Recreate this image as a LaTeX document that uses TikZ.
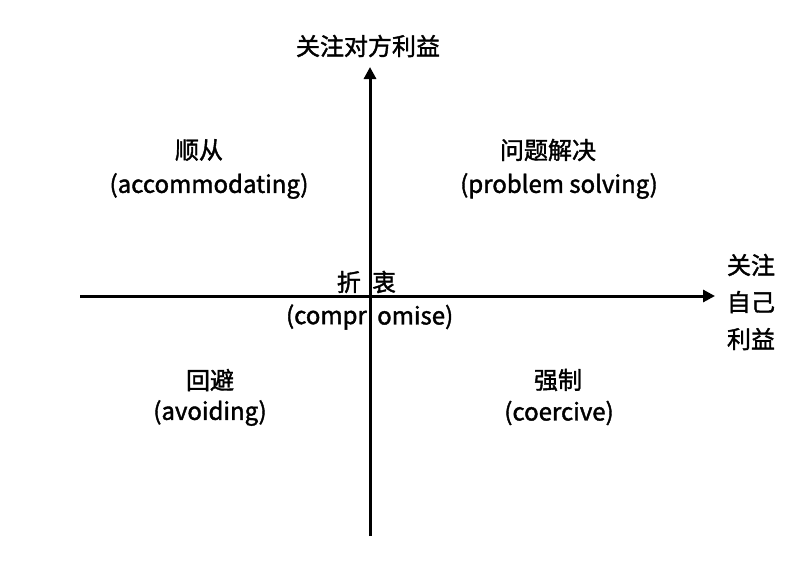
\documentclass[tikz,border=0pt]{standalone}
\usepackage{fontspec}
\usepackage{tikz}
\usetikzlibrary{arrows.meta}
\newfontfamily\cjkfont[FakeBold=1.6]{Noto Sans CJK SC}
\newcommand{\quadfont}{\cjkfont\fontsize{24}{28}\selectfont}

\begin{document}
\begin{tikzpicture}[
    x=1pt, y=-1pt,
    label/.style={
      inner sep=0pt,
      align=center,
      font=\quadfont
    },
    axis/.style={
      -{Triangle[length=12pt,width=12pt]},
      draw=black,
      line width=3pt
    }
  ]
    \useasboundingbox (0,0) rectangle (800,578);

    % axes
    \coordinate (xstart) at (80,296);
    \coordinate (xend) at (715,296);
    \coordinate (ystart) at (370,536);
    \coordinate (yend) at (370,67);
    \draw[axis] (xstart) -- (xend);
    \draw[axis] (ystart) -- (yend);

    % axis titles
    \node[label] (other) at (368,46) {关注对方利益};
    \node[label, align=left, font=\cjkfont\fontsize{24}{37}\selectfont] (self) at (751,302) {关注\\自己\\利益};

    % quadrants
    \node[label] (accom) at (199,150) {顺从};
    \node[label] (accomen) at (209,186) {(accommodating)};
    \node[label] (solve) at (548,150) {问题解决};
    \node[label] (solveen) at (559,186) {(problem solving)};
    \node[label] (avoid) at (210,380) {回避};
    \node[label] (avoiden) at (210,413) {(avoiding)};
    \node[label] (force) at (558,380) {强制};
    \node[label] (forceen) at (559,413) {(coercive)};

    % centre, split by the axis
    \node[label, anchor=east] (compl) at (361,282) {折};
    \node[label, anchor=west] (compr) at (372,282) {衷};
    \node[label, anchor=east] (compenl) at (367,317) {(compr};
    \node[label, anchor=west] (compenr) at (377,317) {omise)};
  \end{tikzpicture}
\end{document}
